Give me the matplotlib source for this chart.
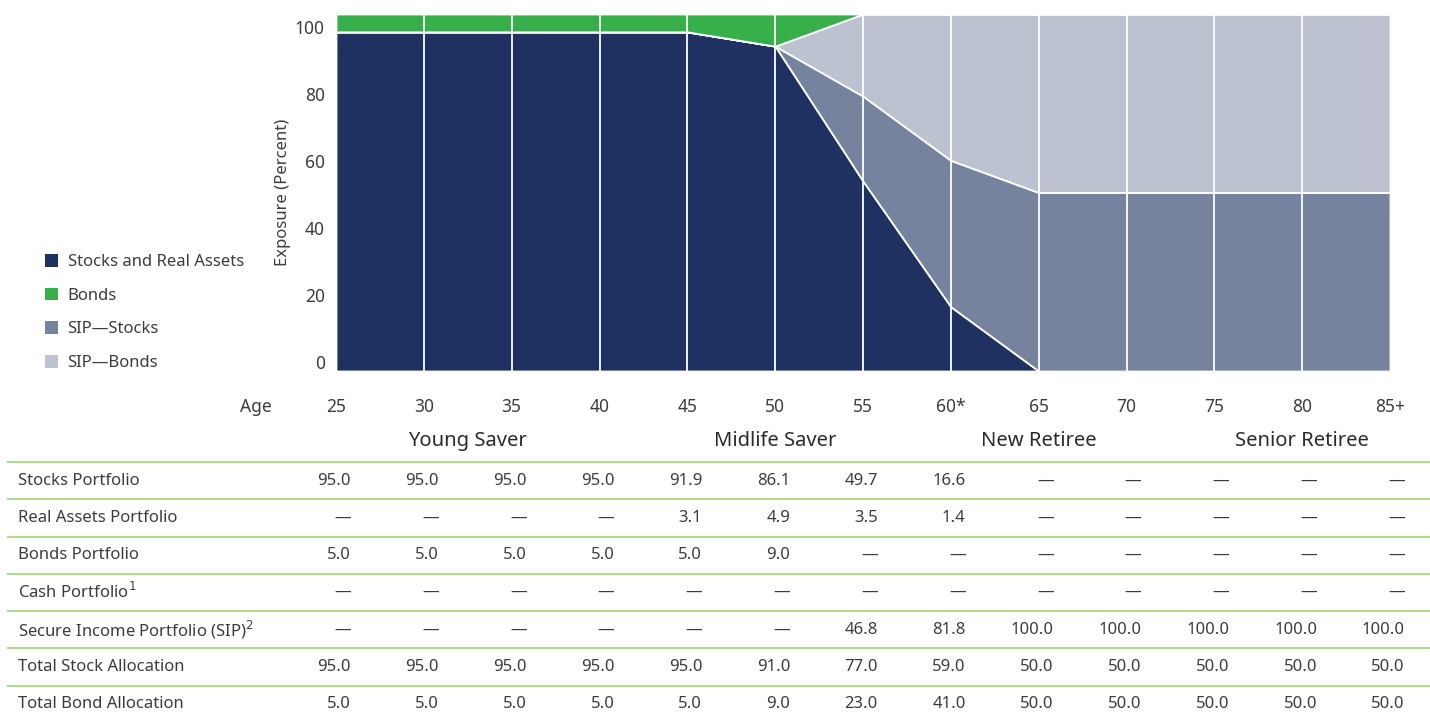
import matplotlib
matplotlib.use("Agg")
import matplotlib.pyplot as plt
import matplotlib.transforms as mtransforms
from matplotlib.patches import Patch

plt.rcParams['font.family'] = ['Noto Sans', 'DejaVu Sans']

# ---- data ----
ages = ["25", "30", "35", "40", "45", "50", "55", "60*", "65", "70", "75", "80", "85+"]
stages = ["Young Saver", "Midlife Saver", "New Retiree", "Senior Retiree"]
stage_centers = [1.5, 5, 8, 11]

stocks_pf = [95.0, 95.0, 95.0, 95.0, 91.9, 86.1, 49.7, 16.6, None, None, None, None, None]
real_assets_pf = [None, None, None, None, 3.1, 4.9, 3.5, 1.4, None, None, None, None, None]
bonds_pf = [5.0, 5.0, 5.0, 5.0, 5.0, 9.0, None, None, None, None, None, None, None]
cash_pf = [None] * 13
sip_pf = [None, None, None, None, None, None, 46.8, 81.8, 100.0, 100.0, 100.0, 100.0, 100.0]
total_stock = [95.0, 95.0, 95.0, 95.0, 95.0, 91.0, 77.0, 59.0, 50.0, 50.0, 50.0, 50.0, 50.0]
total_bond = [5.0, 5.0, 5.0, 5.0, 5.0, 9.0, 23.0, 41.0, 50.0, 50.0, 50.0, 50.0, 50.0]

row_labels = ["Stocks Portfolio", "Real Assets Portfolio", "Bonds Portfolio",
              "Cash Portfolio$^{1}$", "Secure Income Portfolio (SIP)$^{2}$",
              "Total Stock Allocation", "Total Bond Allocation"]
rows = [stocks_pf, real_assets_pf, bonds_pf, cash_pf, sip_pf, total_stock, total_bond]

v = lambda x: x or 0.0
stocks_real = [v(a) + v(b) for a, b in zip(stocks_pf, real_assets_pf)]
bonds = [v(b) for b in bonds_pf]
sip_stocks = [t - s for t, s in zip(total_stock, stocks_real)]
sip_bonds = [t - b for t, b in zip(total_bond, bonds)]

series_names = ["Stocks and Real Assets", "Bonds", "SIP\u2014Stocks", "SIP\u2014Bonds"]
colors = ["#1f3161", "#37b04b", "#76839f", "#bcc2d0"]
text_c = "#3c3c3c"
line_c = "#b3da93"

# ---- figure ----
W, H = 1430, 717
fig = plt.figure(figsize=(W / 100, H / 100), dpi=100)
ax = fig.add_axes([336 / W, 1 - 371 / H, (1390 - 336) / W, (371 - 14) / H])

x = list(range(len(ages)))
# bonds sit on top of the stack
ax.stackplot(x, stocks_real, sip_stocks, sip_bonds, bonds,
             colors=[colors[0], colors[2], colors[3], colors[1]],
             edgecolor="white", linewidth=1.3)
for xi in x[1:-1]:
    ax.axvline(xi, color="white", lw=1.3, zorder=3)
ax.set_xlim(0, len(ages) - 1)
ax.set_ylim(0, 100)
for s in ax.spines.values():
    s.set_visible(False)
ax.set_xticks([])
ax.set_yticks([])

# y labels (label scale slightly offset as in the reference)
lab = ax.twinx()
lab.set_ylim(-2.7, 103.9)
lab.set_yticks(range(0, 101, 20))
lab.yaxis.set_ticks_position("left")
lab.tick_params(axis="y", length=0, pad=8, labelsize=12.5, labelcolor=text_c)
for s in lab.spines.values():
    s.set_visible(False)
fig.text(283 / W, 1 - 192 / H, "Exposure (Percent)", rotation=90, ha="center",
         va="center", fontsize=12, color=text_c)

# legend
handles = [Patch(facecolor=c, edgecolor="none") for c in colors]
fig.legend(handles, series_names, loc="upper left", bbox_to_anchor=(30 / W, 1 - 239 / H),
           frameon=False, fontsize=12, handlelength=0.8, handleheight=0.8,
           handletextpad=0.55, labelspacing=1.05, labelcolor=text_c)

# x labels and table
tr = mtransforms.blended_transform_factory(ax.transData, fig.transFigure)
fig.text(256 / W, 1 - 407 / H, "Age", ha="center", va="center", fontsize=12.5, color=text_c)
for xi, a in zip(x, ages):
    fig.text(xi, 1 - 407 / H, a, transform=tr, ha="center", va="center",
             fontsize=12.5, color=text_c)
for c, s in zip(stage_centers, stages):
    fig.text(c, 1 - 441 / H, s, transform=tr, ha="center", va="center",
             fontsize=14.5, color="#2a2a2a", fontweight="semibold")

line_y = [462, 499, 537, 574, 611, 648, 686]
row_y = [481, 518, 555, 592, 630, 667, 704]
for ly in line_y:
    fig.add_artist(plt.Line2D([8 / W, 1], [1 - ly / H] * 2, color=line_c, lw=1.5))
for lbl, vals, ry in zip(row_labels, rows, row_y):
    fig.text(18 / W, 1 - ry / H, lbl, ha="left", va="center", fontsize=12, color=text_c)
    for xi, val in zip(x, vals):
        s = "\u2014" if val is None else f"{val:.1f}"
        fig.text(xi + 0.17, 1 - ry / H, s, transform=tr, ha="right", va="center",
                 fontsize=12, color=text_c)

fig.savefig("out.png", dpi=100)
